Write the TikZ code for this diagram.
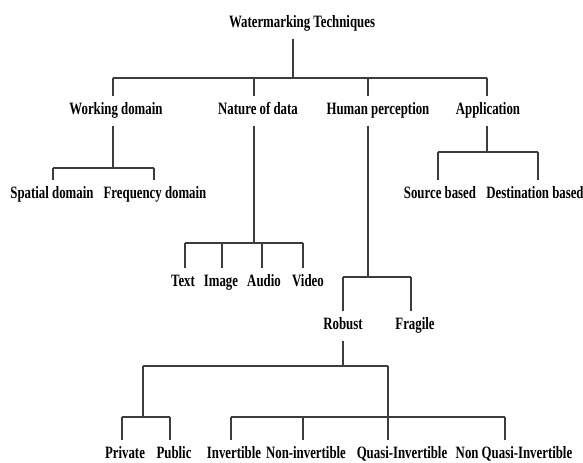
\documentclass[tikz,border=0pt]{standalone}
\usepackage{fontspec}
\setmainfont{Liberation Serif}[FakeStretch=0.74]

\tikzset{every picture/.style={line width=1.1pt}}
\tikzset{lbl/.style={anchor=base, inner xsep=0.75pt, inner ysep=4.5pt, text height=9pt, text depth=3pt, font=\fontsize{13}{15}\selectfont\bfseries}}
\tikzset{wire/.style={draw={rgb, 255:red, 60; green, 60; blue, 60 }}}

\begin{document}
\begin{tikzpicture}[x=0.75pt,y=0.75pt,yscale=-1,xscale=1]
\useasboundingbox (0,0) rectangle (583,463);

% Text Node
\node[lbl] (wt) at (302,28) {Watermarking Techniques};
% Text Node
\node[lbl] (wd) at (116,115) {Working domain};
\node[lbl] (nd) at (258,115) {Nature of data};
\node[lbl] (hp) at (378,115) {Human perception};
\node[lbl] (ap) at (488,115) {Application};
% Text Node
\node[lbl] (sd) at (52,199) {Spatial domain};
\node[lbl] (fd) at (155,199) {Frequency domain};
\node[lbl] (sb) at (440,199) {Source based};
\node[lbl] (db) at (535,199) {Destination based};
% Text Node
\node[lbl] (tx) at (183,287) {Text};
\node[lbl] (im) at (221,287) {Image};
\node[lbl] (au) at (264,287) {Audio};
\node[lbl] (vd) at (308,287) {Video};
% Text Node
\node[lbl] (rb) at (343,330) {Robust};
\node[lbl] (fg) at (415,330) {Fragile};
% Text Node
\node[lbl] (pv) at (125,459) {Private};
\node[lbl] (pb) at (174,459) {Public};
\node[lbl] (iv) at (234,459) {Invertible};
\node[lbl] (ni) at (306,459) {Non-invertible};
\node[lbl] (qi) at (402,459) {Quasi-Invertible};
\node[lbl] (nq) at (514,459) {Non Quasi-Invertible};

% Junctions
\coordinate (wt-b) at (293,78);
\coordinate (wd-t) at (113,78);
\coordinate (nd-t) at (254,78);
\coordinate (hp-t) at (368,78);
\coordinate (ap-t) at (487,78);
\coordinate (wd-b) at (113,168);
\coordinate (sd-t) at (53,168);
\coordinate (fd-t) at (154,168);
\coordinate (nd-b) at (254,243);
\coordinate (tx-t) at (185,243);
\coordinate (im-t) at (222,243);
\coordinate (au-t) at (262,243);
\coordinate (vd-t) at (303,243);
\coordinate (hp-b) at (368,277);
\coordinate (rb-t) at (343,277);
\coordinate (fg-t) at (411,277);
\coordinate (ap-b) at (487,152);
\coordinate (sb-t) at (438,152);
\coordinate (db-t) at (538,152);
\coordinate (rb-b) at (343,366);
\coordinate (pp-t) at (143,366);
\coordinate (ii-t) at (388,366);
\coordinate (pp-b) at (143,417);
\coordinate (pv-t) at (122,417);
\coordinate (pb-t) at (170,417);
\coordinate (iv-t) at (231,417);
\coordinate (ni-t) at (303,417);
\coordinate (qi-t) at (388,417);
\coordinate (nq-t) at (505,417);

%Straight Lines [root]
\draw[wire] (wt-b |- wt.south) -- (wt-b);
\draw[wire] (wd-t) -- (ap-t);
\draw[wire] (wd-t) -- (wd-t |- wd.north);
\draw[wire] (nd-t) -- (nd-t |- nd.north);
\draw[wire] (hp-t) -- (hp-t |- hp.north);
\draw[wire] (ap-t) -- (ap-t |- ap.north);

%Straight Lines [working domain]
\draw[wire] (wd-b |- wd.south) -- (wd-b);
\draw[wire] (sd-t) -- (fd-t);
\draw[wire] (sd-t) -- (sd-t |- sd.north);
\draw[wire] (fd-t) -- (fd-t |- fd.north);

%Straight Lines [nature of data]
\draw[wire] (nd-b |- nd.south) -- (nd-b);
\draw[wire] (tx-t) -- (vd-t);
\draw[wire] (tx-t) -- (tx-t |- tx.north);
\draw[wire] (im-t) -- (im-t |- im.north);
\draw[wire] (au-t) -- (au-t |- au.north);
\draw[wire] (vd-t) -- (vd-t |- vd.north);

%Straight Lines [human perception]
\draw[wire] (hp-b |- hp.south) -- (hp-b);
\draw[wire] (rb-t) -- (fg-t);
\draw[wire] (rb-t) -- (rb-t |- rb.north);
\draw[wire] (fg-t) -- (fg-t |- fg.north);

%Straight Lines [application]
\draw[wire] (ap-b |- ap.south) -- (ap-b);
\draw[wire] (sb-t) -- (db-t);
\draw[wire] (sb-t) -- (sb-t |- sb.north);
\draw[wire] (db-t) -- (db-t |- db.north);

%Straight Lines [robust]
\draw[wire] (rb-b |- rb.south) -- (rb-b);
\draw[wire] (pp-t) -- (ii-t);
\draw[wire] (pp-t) -- (pp-b);
\draw[wire] (pv-t) -- (pb-t);
\draw[wire] (pv-t) -- (pv-t |- pv.north);
\draw[wire] (pb-t) -- (pb-t |- pb.north);
\draw[wire] (ii-t) -- (qi-t |- qi.north);
\draw[wire] (iv-t) -- (nq-t);
\draw[wire] (iv-t) -- (iv-t |- iv.north);
\draw[wire] (ni-t) -- (ni-t |- ni.north);
\draw[wire] (nq-t) -- (nq-t |- nq.north);

\end{tikzpicture}
\end{document}
